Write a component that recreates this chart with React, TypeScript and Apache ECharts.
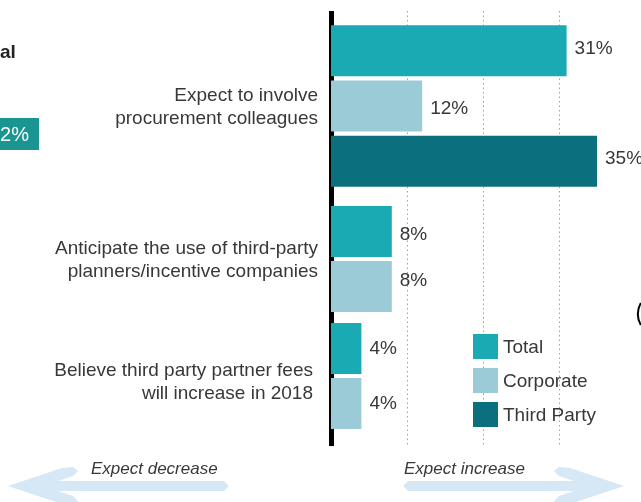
import React, { useEffect, useRef } from "react";
import * as echarts from "echarts";

const groupLabels = [
  "Expect to involve\nprocurement colleagues",
  "Anticipate the use of third-party\nplanners/incentive companies",
  "Believe third party partner fees\nwill increase in 2018",
];
const seriesNames = ["Total", "Corporate", "Third Party"];
const totalValues: (number | null)[] = [31, 8, 4];
const corporateValues: (number | null)[] = [12, 8, 4];
const thirdPartyValues: (number | null)[] = [35, null, null];
const xTicks = [0, 10, 20, 30, 40];
const directionLabels = ["Expect decrease", "Expect increase"];

// styling: vertical nudges of the value labels (px), per series per group
const labelShiftY = [
  [-3.5, 1.5, -1.5],
  [1.5, -7.5, -1.5],
  [-3.5, 0, 0],
];

const colors = ["#1aaab4", "#9bcbd6", "#0b6f7e"];
const FONT = "'Liberation Sans', Arial, Helvetica, sans-serif";
const TEXT = "#383838";

const gridLayouts = [
  { top: 23, height: 166 },
  { top: 204, height: 110 },
  { top: 321, height: 110 },
];
const labelLayouts = [
  { top: 23, height: 166, margin: 13 },
  { top: 204, height: 110, margin: 13 },
  { top: 326, height: 110, margin: 18 },
];

const leftArrow: number[][] = [
  [8, 486], [62, 468], [73, 467], [78, 471], [73, 476], [58, 481],
  [224, 481], [229, 486], [224, 491], [58, 491], [73, 496], [78, 501],
  [73, 505], [62, 504],
];

export default function App() {
  const ref = useRef<HTMLDivElement>(null);
  useEffect(() => {
    if (!ref.current) return;
    const chart = echarts.init(ref.current, null, { renderer: "svg" });
    const valuesBySeries = [totalValues, corporateValues, thirdPartyValues];
    const grids: any[] = [];
    const xAxes: any[] = [];
    const yAxes: any[] = [];
    const series: any[] = [];
    gridLayouts.forEach((g, gi) => {
      grids.push({ left: 331, right: 6, top: g.top, height: g.height });
      xAxes.push({ type: "value", gridIndex: gi, min: xTicks[0], max: xTicks[xTicks.length - 1], show: false });
      const rows = seriesNames.filter((_, s) => valuesBySeries[s][gi] != null);
      yAxes.push({ type: "category", gridIndex: gi, data: rows, inverse: true, show: false });
      seriesNames.forEach((name, s) => {
        const v = valuesBySeries[s][gi];
        if (v == null) return;
        series.push({
          type: "bar",
          name,
          xAxisIndex: gi,
          yAxisIndex: gi,
          stack: "g" + gi,
          barWidth: 51,
          data: rows.map((r) => (r === name ? v : null)),
          itemStyle: { color: colors[s] },
          label: {
            show: true,
            position: "right",
            distance: 8,
            offset: [0, labelShiftY[s][gi]],
            formatter: "{c}%",
            fontSize: 19,
            color: TEXT,
            fontFamily: FONT,
          },
        });
      });
    });
    // background grid (index 3): reference line + dotted split lines
    grids.push({ left: 331, right: 6, top: 11, bottom: 56 });
    xAxes.push({
      type: "value",
      gridIndex: 3,
      min: xTicks[0],
      max: xTicks[xTicks.length - 1],
      interval: xTicks[1] - xTicks[0],
      axisLine: { show: false },
      axisTick: { show: false },
      axisLabel: { show: false },
      splitLine: {
        show: true,
        showMinLine: false,
        showMaxLine: false,
        lineStyle: { color: "#a0a0a0", type: [1.5, 3], width: 1 },
      },
    });
    yAxes.push({
      type: "value",
      gridIndex: 3,
      min: 0,
      max: 1,
      offset: 2.5,
      axisLine: { show: true, lineStyle: { color: "#000", width: 5, cap: "butt" } },
      axisTick: { show: false },
      axisLabel: { show: false },
      splitLine: { show: false },
    });
    // label grids (index 4..6): one category per group
    labelLayouts.forEach((l, gi) => {
      const idx = 4 + gi;
      grids.push({ left: 331, right: 6, top: l.top, height: l.height });
      xAxes.push({ type: "value", gridIndex: idx, min: xTicks[0], max: xTicks[xTicks.length - 1], show: false });
      yAxes.push({
        type: "category",
        gridIndex: idx,
        data: [groupLabels[gi]],
        axisLine: { show: false },
        axisTick: { show: false },
        axisLabel: {
          margin: l.margin,
          fontSize: 19,
          lineHeight: 23,
          color: TEXT,
          fontFamily: FONT,
          align: "right",
        },
      });
    });

    const rightArrow = leftArrow.map(([x, y]) => [632 - x, y]);

    chart.setOption({
      animation: false,
      textStyle: { fontFamily: FONT },
      grid: grids,
      xAxis: xAxes,
      yAxis: yAxes,
      series,
      legend: {
        data: seriesNames,
        orient: "vertical",
        left: 473,
        top: 334,
        padding: 0,
        itemWidth: 25,
        itemHeight: 25,
        itemGap: 9,
        icon: "rect",
        selectedMode: false,
        textStyle: { fontSize: 19, color: TEXT, fontFamily: FONT },
      },
      graphic: [
        { type: "polygon", shape: { points: leftArrow }, style: { fill: "#d6e8f6" }, z: 0 },
        { type: "polygon", shape: { points: rightArrow }, style: { fill: "#d6e8f6" }, z: 0 },
        {
          type: "text", x: 91, y: 468, z: 5,
          style: { text: directionLabels[0], fontSize: 17, fontStyle: "italic", fill: TEXT, fontFamily: FONT, verticalAlign: "middle" },
        },
        {
          type: "text", x: 404, y: 468, z: 5,
          style: { text: directionLabels[1], fontSize: 17, fontStyle: "italic", fill: TEXT, fontFamily: FONT, verticalAlign: "middle" },
        },
        {
          type: "text", x: 0, y: 51,
          style: { text: "al", fontSize: 19, fontWeight: "bold", fill: "#222", fontFamily: FONT, verticalAlign: "middle" },
        },
        { type: "rect", shape: { x: 0, y: 118, width: 39, height: 32 }, style: { fill: "#1b9592" } },
        {
          type: "text", x: 29, y: 134, z: 5,
          style: { text: "2%", fontSize: 20, fill: "#fff", fontFamily: FONT, align: "right", verticalAlign: "middle" },
        },
        {
          type: "arc",
          shape: { cx: 661, cy: 314, r: 23, startAngle: Math.PI - 0.5, endAngle: Math.PI + 0.5 },
          style: { stroke: "#000", lineWidth: 2, fill: "none" },
        },
      ],
    });
    return () => chart.dispose();
  }, []);
  return <div ref={ref} style={{ position: "fixed", left: 0, top: 0, width: 641, height: 502 }} />;
}
